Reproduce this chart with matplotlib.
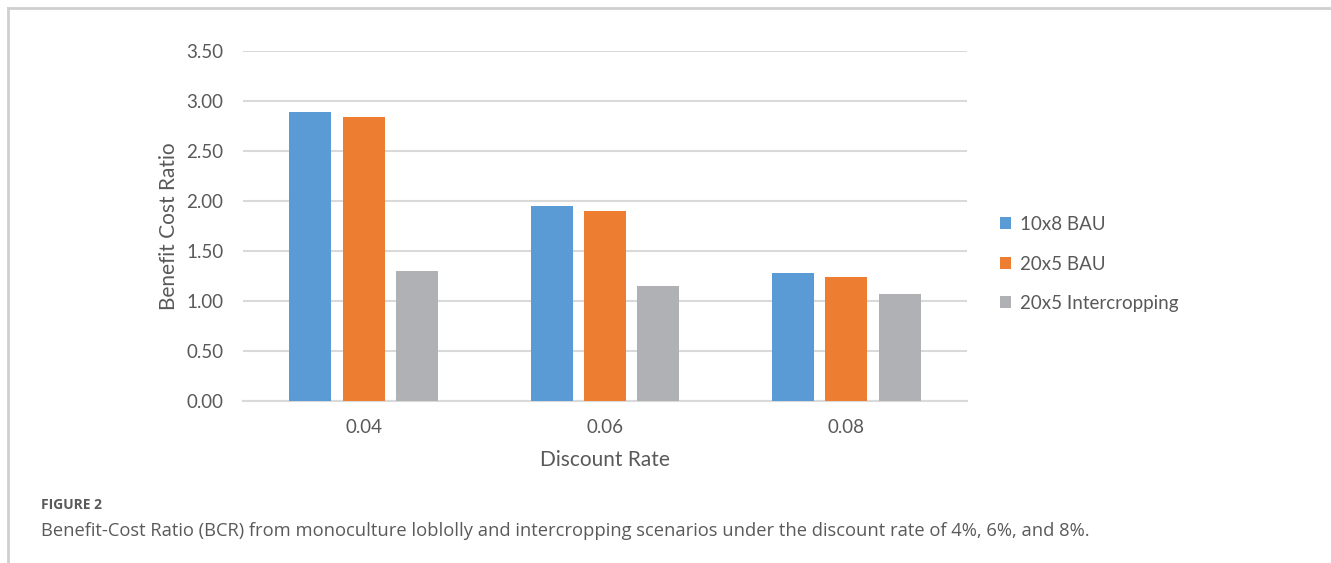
import matplotlib
matplotlib.use("Agg")
import matplotlib.pyplot as plt
import numpy as np
from matplotlib.patches import Patch
from matplotlib.lines import Line2D

# Data
rates = ["0.04", "0.06", "0.08"]
series_names = ["10x8 BAU", "20x5 BAU", "20x5 Intercropping"]
bau_10x8 = [2.89, 1.95, 1.28]
bau_20x5 = [2.84, 1.90, 1.24]
intercrop_20x5 = [1.30, 1.15, 1.07]
y_ticks = [0.0, 0.5, 1.0, 1.5, 2.0, 2.5, 3.0, 3.5]

colors = ["#5b9bd5", "#ed7d31", "#b0b1b4"]
text_color = "#595959"
grid_color = "#d9d9d9"

W, H = 1331, 563
fig = plt.figure(figsize=(W / 100, H / 100), dpi=100)

ax = fig.add_axes([243 / W, 1 - 401 / H, (967 - 243) / W, (401 - 51) / H])

x = np.arange(len(rates))
width = 0.174
step = 0.221
for i, (vals, c, name) in enumerate(zip([bau_10x8, bau_20x5, intercrop_20x5], colors, series_names)):
    ax.bar(x + (i - 1) * step, vals, width=width, color=c, label=name, zorder=3)

ax.set_xlim(-0.5, len(rates) - 0.5)
ax.set_ylim(0, 3.5)
ax.set_yticks(y_ticks)
ax.set_yticklabels([f"{t:.2f}" for t in y_ticks])
ax.set_xticks(x)
ax.set_xticklabels(rates)

font = "Lato"
for lbl in ax.get_yticklabels() + ax.get_xticklabels():
    lbl.set_fontfamily(font)
    lbl.set_fontsize(13.5)
    lbl.set_color(text_color)

ax.tick_params(axis="y", length=0, pad=14)
ax.tick_params(axis="x", length=0, pad=13)
ax.yaxis.grid(True, color=grid_color, linewidth=1.5, zorder=0)
ax.set_axisbelow(True)
for s in ["top", "right", "left"]:
    ax.spines[s].set_visible(False)
ax.spines["bottom"].set_color(grid_color)
ax.spines["bottom"].set_linewidth(1.5)

ax.set_ylabel("Benefit Cost Ratio", fontfamily=font, fontsize=15, color=text_color, labelpad=5)
ax.set_xlabel("Discount Rate", fontfamily=font, fontsize=15, color=text_color, labelpad=10)

handles = [Patch(facecolor=c, edgecolor="none") for c in colors]
leg = fig.legend(handles, series_names, loc="center left",
                 bbox_to_anchor=(983 / W, 1 - 264 / H), frameon=False,
                 prop={"family": font, "size": 13.5}, labelcolor=text_color,
                 handlelength=0.6, handleheight=0.6, handletextpad=0.45,
                 labelspacing=1.2)

# Frame lines around the figure panel
fig.add_artist(Line2D([8 / W, 1.0], [1 - 8 / H, 1 - 8 / H], color="#cfcfcf", linewidth=2, transform=fig.transFigure))
fig.add_artist(Line2D([8 / W, 8 / W], [1 - 8 / H, 0.0], color="#cfcfcf", linewidth=2, transform=fig.transFigure))

# Caption
fig.text(41 / W, 1 - 505 / H, "FIGURE 2", fontfamily="Open Sans", fontsize=10, fontweight="bold",
         color="#5a5a5a", va="center", ha="left")
fig.text(41 / W, 1 - 531 / H,
         "Benefit-Cost Ratio (BCR) from monoculture loblolly and intercropping scenarios under the discount rate of 4%, 6%, and 8%.",
         fontfamily="Open Sans", fontsize=13.2, color="#5a5a5a", va="center", ha="left")

fig.savefig("out.png", dpi=100)
